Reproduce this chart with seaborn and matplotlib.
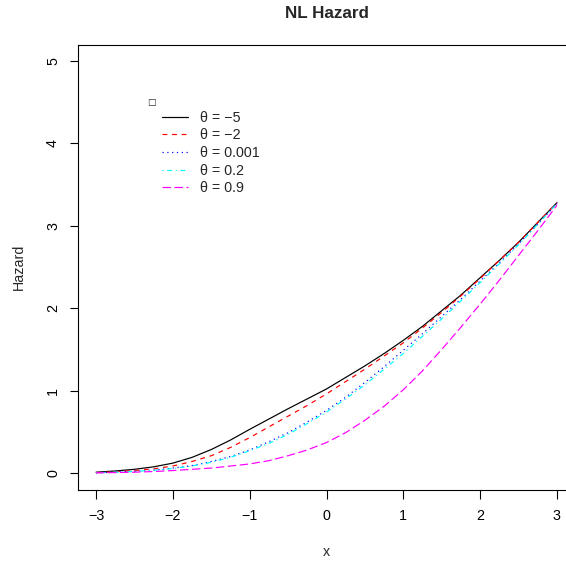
import numpy as np
import pandas as pd
import matplotlib
matplotlib.use("Agg")
import matplotlib.pyplot as plt
import seaborn as sns

sns.set_style("white")
plt.rcParams['font.family'] = ['Liberation Sans', 'DejaVu Sans']

# ---- data ----
x_vals = [-3.0, -2.75, -2.5, -2.25, -2.0, -1.75, -1.5, -1.25, -1.0, -0.75, -0.5, -0.25,
          0.0, 0.25, 0.5, 0.75, 1.0, 1.25, 1.5, 1.75, 2.0, 2.25, 2.5, 2.75, 3.0]
haz_m5 = [0.01, 0.025, 0.045, 0.075, 0.12, 0.19, 0.285, 0.40, 0.53, 0.655, 0.78, 0.90,
          1.02, 1.16, 1.30, 1.45, 1.61, 1.78, 1.97, 2.16, 2.37, 2.58, 2.80, 3.04, 3.28]
haz_m2 = [0.005, 0.015, 0.03, 0.05, 0.085, 0.14, 0.21, 0.31, 0.43, 0.56, 0.69, 0.82,
          0.96, 1.11, 1.26, 1.42, 1.58, 1.76, 1.95, 2.15, 2.36, 2.58, 2.80, 3.04, 3.28]
haz_0001 = [0.003, 0.01, 0.02, 0.035, 0.06, 0.09, 0.14, 0.20, 0.28, 0.38, 0.49, 0.62,
            0.76, 0.92, 1.10, 1.29, 1.49, 1.69, 1.90, 2.11, 2.33, 2.55, 2.78, 3.02, 3.27]
haz_02 = [0.003, 0.01, 0.02, 0.033, 0.055, 0.085, 0.13, 0.19, 0.27, 0.36, 0.47, 0.60,
          0.74, 0.90, 1.07, 1.26, 1.45, 1.66, 1.87, 2.09, 2.31, 2.54, 2.77, 3.02, 3.27]
haz_09 = [0.002, 0.005, 0.01, 0.018, 0.03, 0.045, 0.06, 0.085, 0.11, 0.15, 0.21, 0.28,
          0.37, 0.49, 0.64, 0.81, 1.01, 1.24, 1.50, 1.77, 2.05, 2.34, 2.64, 2.94, 3.25]

labels = ["θ = −5", "θ = −2", "θ = 0.001", "θ = 0.2", "θ = 0.9"]
series = [haz_m5, haz_m2, haz_0001, haz_02, haz_09]
colors = ["black", "red", "blue", "cyan", "magenta"]
styles = ["-", (0, (4, 4)), (0, (1, 3)), (0, (1, 3, 4, 3)), (0, (7, 3))]

x_ticks = [-3, -2, -1, 0, 1, 2, 3]
y_ticks = [0, 1, 2, 3, 4, 5]

FS = 14.2
W, H = 566, 563
fig = plt.figure(figsize=(W / 72, H / 72), dpi=72)
ax = fig.add_axes([77.6 / W, 1 - 489.5 / H, 497.8 / W, 445.0 / H])

for lab, ys, c, ls in zip(labels, series, colors, styles):
    df = pd.DataFrame({"x": x_vals, "Hazard": ys})
    sns.lineplot(data=df, x="x", y="Hazard", color=c, linestyle=ls, lw=1.2,
                 label=lab, ax=ax)

ax.set_xlim(-3.24, 3.24)
ax.set_ylim(-0.2, 5.2)
ax.set_xticks(x_ticks)
ax.set_xticklabels([str(t).replace("-", "−") for t in x_ticks])
ax.set_yticks(y_ticks)
ax.set_yticklabels([str(t) for t in y_ticks], rotation=90, va="center")
ax.tick_params(axis="both", direction="out", length=8.5, width=1.1, color="black",
               labelsize=FS, labelcolor="black", bottom=True, left=True)
ax.tick_params(axis="x", pad=11)
ax.tick_params(axis="y", pad=9)
for s in ax.spines.values():
    s.set_visible(True)
    s.set_color("black")
    s.set_linewidth(1.1)

ax.set_xlabel("x", fontsize=FS, labelpad=22)
ax.set_ylabel("Hazard", fontsize=FS, labelpad=20)
ax.set_title("NL Hazard", fontsize=17, fontweight="bold", pad=26)

leg = ax.legend(loc="upper left", bbox_to_anchor=(84.6 / 497.8, 1 - (110.5 - 44.5) / 445.0),
                frameon=False, fontsize=FS, handlelength=1.83, handletextpad=0.85,
                labelspacing=0.26, borderaxespad=0, borderpad=0)
ax.text(151, H - 103, "□", fontsize=9, family="DejaVu Sans", ha="center", va="center",
        transform=None)

fig.savefig("out.png", dpi=72)
